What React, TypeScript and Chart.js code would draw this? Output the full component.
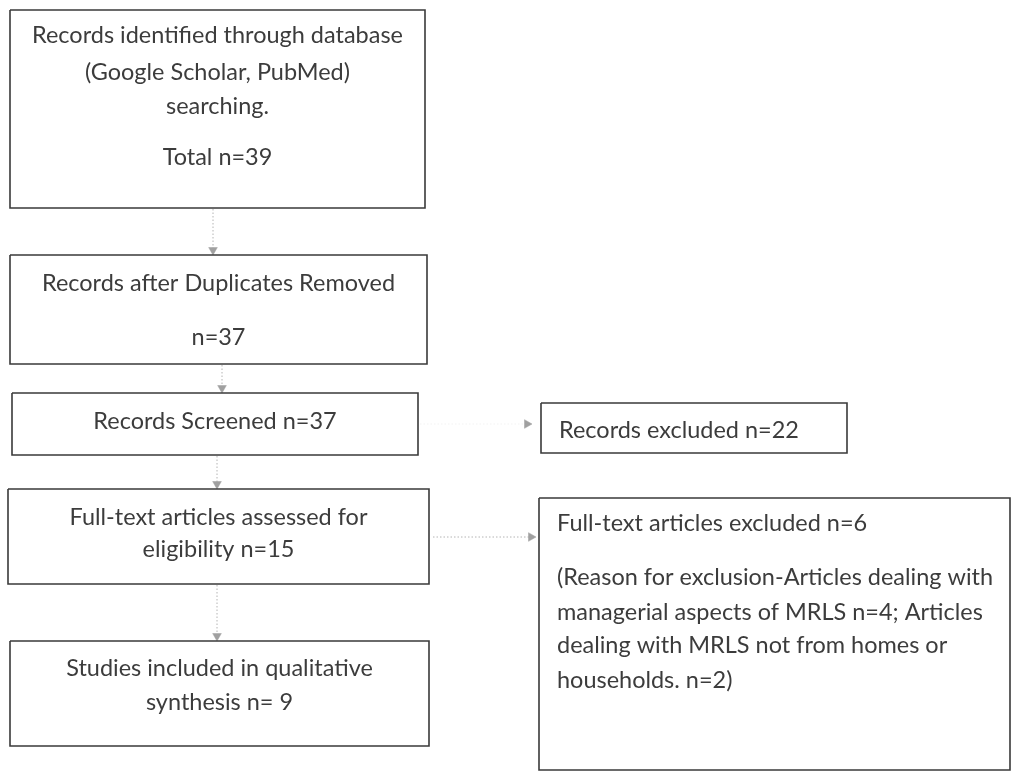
import { useEffect, useRef } from "react";
import { Chart, registerables } from "chart.js";

Chart.register(...registerables);

// Flow stages (main column), top to bottom
const stageLabels = [
  "Records identified through database\n(Google Scholar, PubMed)\nsearching.",
  "Records after Duplicates Removed",
  "Records Screened",
  "Full-text articles assessed for\neligibility",
  "Studies included in qualitative\nsynthesis",
];
const stageCounts = [39, 37, 37, 15, 9];

// Exclusions (side column)
const excludedLabels = ["Records excluded", "Full-text articles excluded"];
const excludedCounts = [22, 6];
const reasonLabels = [
  "Articles dealing with managerial aspects of MRLS",
  "Articles dealing with MRLS not from homes or households.",
];
const reasonCounts = [4, 2];

// Text for each box, built from the values above
const stageText = [
  [...stageLabels[0].split("\n"), "", `Total n=${stageCounts[0]}`],
  [stageLabels[1], "", `n=${stageCounts[1]}`],
  [`${stageLabels[2]} n=${stageCounts[2]}`],
  [stageLabels[3].split("\n")[0], `${stageLabels[3].split("\n")[1]} n=${stageCounts[3]}`],
  [stageLabels[4].split("\n")[0], `${stageLabels[4].split("\n")[1]} n= ${stageCounts[4]}`],
];
const reasonText = `(Reason for exclusion-${reasonLabels[0]} n=${reasonCounts[0]}; ${reasonLabels[1]} n=${reasonCounts[1]})`;
const sideText = [
  [`${excludedLabels[0]} n=${excludedCounts[0]}`],
  [
    `${excludedLabels[1]} n=${excludedCounts[1]}`,
    "",
    reasonText.slice(0, 43),
    reasonText.slice(44, 84),
    reasonText.slice(85, 120),
    reasonText.slice(121),
  ],
];

// Layout in the chart's own units (canvas is 1012 x 775)
const W = 1012;
const H = 775;
const mainBoxes = [
  { x0: 10, x1: 425, y0: 10, y1: 208, lineY: [35, 72, 106, 0, 157] },
  { x0: 10, x1: 427, y0: 255, y1: 364, lineY: [283, 0, 337] },
  { x0: 12, x1: 418, y0: 393, y1: 455, lineY: [421] },
  { x0: 8, x1: 429, y0: 489, y1: 584, lineY: [517, 549] },
  { x0: 10, x1: 429, y0: 641, y1: 746, lineY: [668, 702] },
];
const sideBoxes = [
  { x0: 541, x1: 847, y0: 403, y1: 453, tx: 559, lineY: [430] },
  { x0: 539, x1: 1010, y0: 498, y1: 770, tx: 557, lineY: [523, 0, 577, 612, 645, 680] },
];
const arrows = [
  { from: [213, 209], to: [213, 250], dir: 180, alpha: 0.7 },
  { from: [222, 365], to: [222, 388], dir: 180, alpha: 0.7 },
  { from: [217, 456], to: [217, 484], dir: 180, alpha: 0.7 },
  { from: [217, 585], to: [217, 636], dir: 180, alpha: 0.7 },
  { from: [420, 424], to: [527, 424], dir: 90, alpha: 0.12 },
  { from: [433, 537], to: [531, 537], dir: 90, alpha: 0.7 },
];

const FONT = "Lato, 'Noto Sans', sans-serif";

const rect = (b: { x0: number; x1: number; y0: number; y1: number }) => [
  { x: b.x0, y: b.y0 },
  { x: b.x1, y: b.y0 },
  { x: b.x1, y: b.y1 },
  { x: b.x0, y: b.y1 },
  { x: b.x0, y: b.y0 },
];

const boxText = {
  id: "boxText",
  afterDatasetsDraw(chart: Chart) {
    const { ctx } = chart;
    const xs = chart.scales.x;
    const ys = chart.scales.y;
    ctx.save();
    // size the font so the widest first line matches the reference width
    ctx.font = `100px ${FONT}`;
    const ref = ctx.measureText(stageText[0][0]).width;
    const size = (100 * (xs.getPixelForValue(403) - xs.getPixelForValue(32))) / ref;
    ctx.font = `${size}px ${FONT}`;
    ctx.fillStyle = "#3c3c3c";
    ctx.textBaseline = "middle";

    ctx.textAlign = "center";
    mainBoxes.forEach((b, i) => {
      const cx = xs.getPixelForValue((b.x0 + b.x1) / 2);
      stageText[i].forEach((line, j) => {
        if (!line) return;
        ctx.fillText(line, cx, ys.getPixelForValue(b.lineY[j]));
      });
    });

    ctx.textAlign = "left";
    sideBoxes.forEach((b, i) => {
      const tx = xs.getPixelForValue(b.tx);
      sideText[i].forEach((line, j) => {
        if (!line) return;
        ctx.fillText(line, tx, ys.getPixelForValue(b.lineY[j]));
      });
    });
    ctx.restore();
  },
};

export default function App() {
  const chartRef = useRef<HTMLCanvasElement>(null);
  const chartInstance = useRef<Chart | null>(null);

  useEffect(() => {
    document.body.style.margin = "0";
    document.body.style.background = "#ffffff";
    if (!chartRef.current) return;

    if (chartInstance.current) {
      chartInstance.current.destroy();
    }

    const boxSets = [...mainBoxes, ...sideBoxes].map((b) => ({
      data: rect(b),
      showLine: true,
      borderColor: "#3a3a3a",
      borderWidth: 1.6,
      pointRadius: 0,
      tension: 0,
      clip: false as const,
    }));

    const arrowSets = arrows.map((a) => ({
      data: [
        { x: a.from[0], y: a.from[1] },
        { x: a.to[0], y: a.to[1] },
      ],
      showLine: true,
      borderColor: `rgba(150, 150, 150, ${a.alpha})`,
      borderWidth: 1,
      borderDash: [1.5, 2],
      pointRadius: [0, 5],
      pointStyle: "triangle" as const,
      rotation: [0, a.dir],
      pointBackgroundColor: "#a0a0a0",
      pointBorderColor: "#a0a0a0",
      pointBorderWidth: 0.5,
      clip: false as const,
    }));

    const ctx = chartRef.current.getContext("2d");
    if (ctx) {
      chartInstance.current = new Chart(ctx, {
        type: "scatter",
        data: { datasets: [...boxSets, ...arrowSets] as any },
        options: {
          animation: false,
          responsive: false,
          maintainAspectRatio: false,
          events: [],
          layout: { padding: 0, autoPadding: false },
          plugins: {
            legend: { display: false },
            tooltip: { enabled: false },
          },
          scales: {
            x: { type: "linear", min: 0, max: W, display: false },
            y: { type: "linear", min: 0, max: H, reverse: true, display: false },
          },
        },
        plugins: [boxText],
      });
    }

    return () => {
      if (chartInstance.current) {
        chartInstance.current.destroy();
        chartInstance.current = null;
      }
    };
  }, []);

  return (
    <div style={{ width: W, height: H, background: "#ffffff" }}>
      <canvas ref={chartRef} width={W} height={H} style={{ width: W, height: H }} />
    </div>
  );
}
